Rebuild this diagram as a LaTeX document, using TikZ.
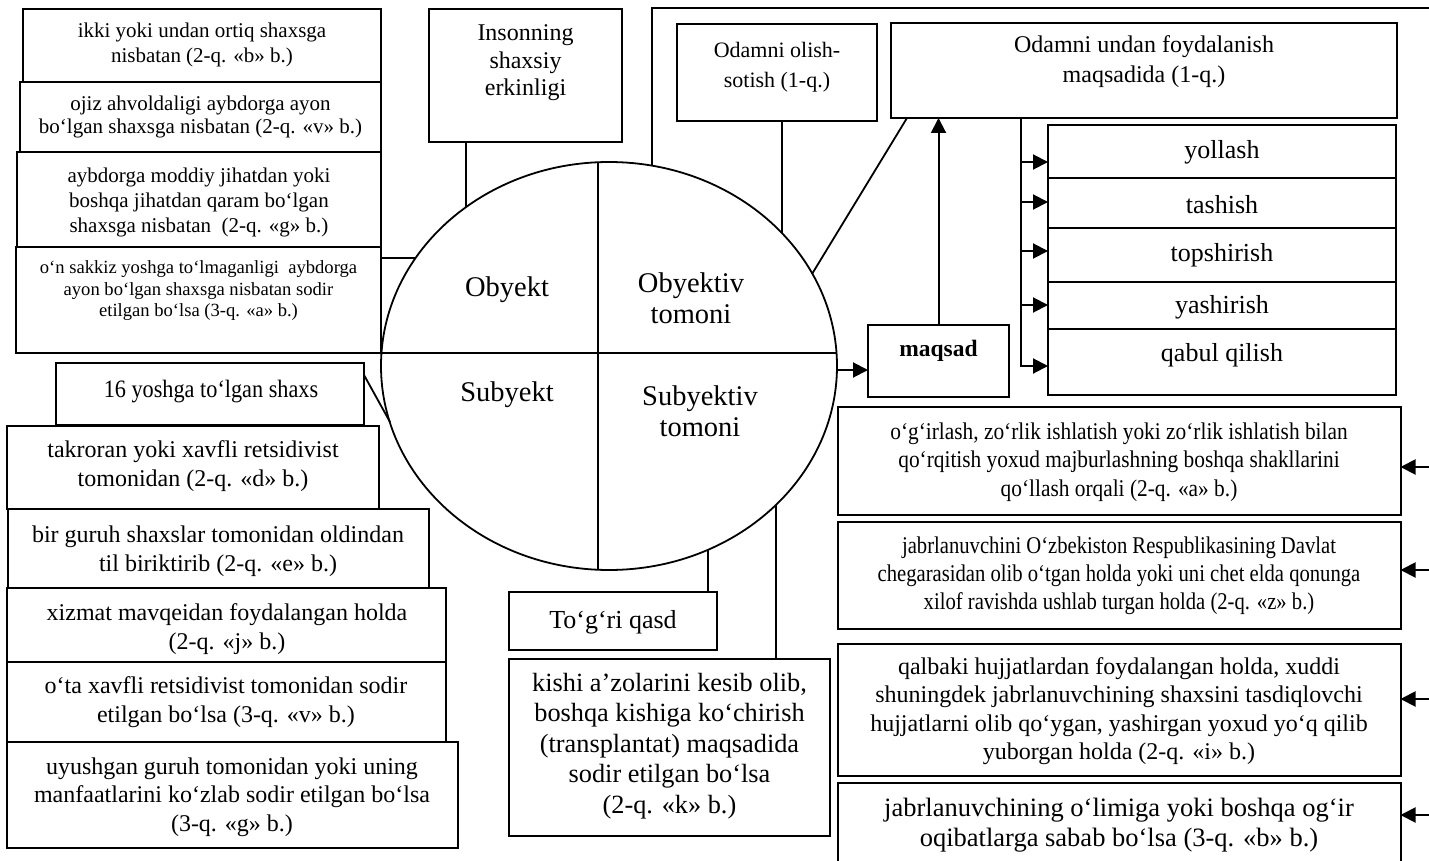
\documentclass[tikz,border=0pt]{standalone}
\usepackage{fontspec}
\setmainfont{Liberation Serif}
\newfontfamily\condA{Liberation Serif}[FakeStretch=0.89]
\newfontfamily\condB{Liberation Serif}[FakeStretch=0.86]
\usetikzlibrary{arrows.meta,shapes.geometric}
\newcommand\fs[2]{\fontsize{#1}{#2}\selectfont}
\newcommand\bx[5]{\node[box, minimum width={(#4-#2)*1pt}, minimum height={(#5-#3)*1pt}] (#1) at (#2,#3) {};}
\begin{document}
\begin{tikzpicture}[x=1pt,y=-1pt,
  box/.style={draw, line width=2pt, inner sep=0pt, outer sep=0pt, anchor=north west},
  txt/.style={align=center, inner sep=0pt},
  ln/.style={line width=1.8pt},
  arr/.style={line width=2pt, -{Triangle[length=15pt,width=15pt]}},
]
\useasboundingbox (0,0) rectangle (1429,861);

% ---------- circle ----------
\node[draw, ellipse, line width=1.8pt, inner sep=0pt, minimum width=456pt, minimum height=408pt] (E) at (609,366) {};
\coordinate (cl) at (381.5,353);
\coordinate (cr) at (836.5,353);
\coordinate (ct) at (598,162.2);
\coordinate (cb) at (598,569.8);
\draw[ln] (cl) -- (cr);
\draw[ln] (ct) -- (cb);
\node[txt, font=\fs{28.5}{31.5}] (obj) at (507,290) {Obyekt};
\node[txt, font=\fs{28.5}{31.5}] (objt) at (691,298) {Obyektiv\\tomoni};
\node[txt, font=\fs{28.5}{31.5}] (sub) at (507,395) {Subyekt};
\node[txt, font=\fs{28.5}{31.5}] (subt) at (700,411) {Subyektiv\\tomoni};

% ---------- left upper boxes ----------
\bx{b1}{23}{9}{381}{82}
\node[txt, font=\fs{21}{25.5}] (t1) at (202,45) {ikki yoki undan ortiq shaxsga\\nisbatan (2-q. «b» b.)};
\bx{b2}{20}{82}{381}{152}
\node[txt, font=\fs{21}{23.5}] (t2) at (200.5,117) {ojiz ahvoldaligi aybdorga ayon\\bo‘lgan shaxsga nisbatan (2-q. «v» b.)};
\bx{b3}{17}{152}{381}{247}
\node[txt, font=\fs{21}{25}] (t3) at (199,202) {aybdorga moddiy jihatdan yoki\\boshqa jihatdan qaram bo‘lgan\\shaxsga nisbatan\ \ (2-q. «g» b.)};
\bx{b4}{16}{247}{381}{353}
\node[txt, font=\fs{18.6}{21.5}] (t4) at (198.5,291) {o‘n sakkiz yoshga to‘lmaganligi\ \ aybdorga\\ayon bo‘lgan shaxsga nisbatan sodir\\etilgan bo‘lsa (3-q. «a» b.)};

% ---------- top middle ----------
\bx{ins}{429}{9}{622}{142}
\node[txt, font=\fs{24}{27.5}] (inst) at (525.5,63) {Insonning\\shaxsiy\\erkinligi};
\bx{ols}{677}{24}{877}{121}
\node[txt, font=\fs{22}{30}] (olst) at (777,67) {Odamni olish-\\sotish (1-q.)};
\bx{odu}{891}{23}{1397}{118}
\node[txt, font=\fs{24}{30}] (odut) at (1144,62) {Odamni undan foydalanish\\maqsadida (1-q.)};

% ---------- stacked boxes ----------
\bx{yol}{1048}{125}{1396}{178}
\bx{tas}{1048}{178}{1396}{228}
\bx{top}{1048}{228}{1396}{282}
\bx{yas}{1048}{282}{1396}{329}
\bx{qab}{1048}{329}{1396}{395}
\node[txt, font=\fs{26}{30}] (yolt) at (1222,152) {yollash};
\node[txt, font=\fs{26}{30}] (tast) at (1222,205) {tashish};
\node[txt, font=\fs{26}{30}] (topt) at (1222,255) {topshirish};
\node[txt, font=\fs{26}{30}] (yast) at (1222,307) {yashirish};
\node[txt, font=\fs{26}{30}] (qabt) at (1222,355) {qabul qilish};

% ---------- maqsad ----------
\bx{maq}{868}{325}{1009}{397}
\node[txt, font=\bfseries\fs{23.5}{27}] (maqt) at (938.5,351) {maqsad};

% ---------- right lower boxes ----------
\bx{ra}{837.5}{407}{1400.5}{515}
\node[txt, font=\condA\fs{24}{28.5}] (rat) at (1119,462) {o‘g‘irlash, zo‘rlik ishlatish yoki zo‘rlik ishlatish bilan\\qo‘rqitish yoxud majburlashning boshqa shakllarini\\qo‘llash orqali (2-q. «a» b.)};
\bx{rb}{837.5}{522}{1400.5}{629}
\node[txt, font=\condB\fs{24}{28}] (rbt) at (1119,576) {jabrlanuvchini O‘zbekiston Respublikasining Davlat\\chegarasidan olib o‘tgan holda yoki uni chet elda qonunga\\xilof ravishda ushlab turgan holda (2-q. «z» b.)};
\bx{rc}{837.5}{644}{1400.5}{776}
\node[txt, font=\fs{24}{28.5}] (rct) at (1119,711) {qalbaki hujjatlardan foydalangan holda, xuddi\\shuningdek jabrlanuvchining shaxsini tasdiqlovchi\\hujjatlarni olib qo‘ygan, yashirgan yoxud yo‘q qilib\\yuborgan holda (2-q. «i» b.)};
\bx{rd}{837.5}{783}{1400.5}{875}
\node[txt, font=\fs{26.5}{30}] (rdt) at (1119,825) {jabrlanuvchining o‘limiga yoki boshqa og‘ir\\oqibatlarga sabab bo‘lsa (3-q. «b» b.)};

% ---------- left lower boxes ----------
\bx{s16}{56}{363}{364}{425}
\node[txt, font=\condA\fs{25}{29}] (s16t) at (211,392) {16 yoshga to‘lgan shaxs};
\bx{l1}{7}{426}{379}{509}
\node[txt, font=\fs{24}{28.5}] (l1t) at (193,466) {takroran yoki xavfli retsidivist\\tomonidan (2-q. «d» b.)};
\bx{l2}{8}{509}{429}{588}
\node[txt, font=\fs{24}{28.5}] (l2t) at (218,551) {bir guruh shaxslar tomonidan oldindan\\til biriktirib (2-q. «e» b.)};
\bx{l3}{7}{588}{446}{662}
\node[txt, font=\fs{24}{28.5}] (l3t) at (227,629) {xizmat mavqeidan foydalangan holda\\(2-q. «j» b.)};
\bx{l4}{7}{662}{446}{742}
\node[txt, font=\fs{24}{28.5}] (l4t) at (226,702) {o‘ta xavfli retsidivist tomonidan sodir\\etilgan bo‘lsa (3-q. «v» b.)};
\bx{l5}{7}{742}{458}{848}
\node[txt, font=\fs{24}{28.5}] (l5t) at (232,797) {uyushgan guruh tomonidan yoki uning\\manfaatlarini ko‘zlab sodir etilgan bo‘lsa\\(3-q. «g» b.)};

% ---------- bottom middle ----------
\bx{tq}{509}{592}{717}{650}
\node[txt, font=\fs{26}{30}] (tqt) at (613,622) {To‘g‘ri qasd};
\bx{ks}{509}{659}{830}{836}
\node[txt, font=\fs{26.3}{30.5}] (kst) at (669.5,746) {kishi a’zolarini kesib olib,\\boshqa kishiga ko‘chirish\\(transplantat) maqsadida\\sodir etilgan bo‘lsa\\(2-q. «k» b.)};

% ---------- connectors ----------
\coordinate (eins) at (466,207);
\draw[ln] (ins.south -| eins) -- (eins);
\coordinate (eols) at (782,233);
\draw[ln] (ols.south -| eols) -- (eols);
\coordinate (efr) at (652,166);
\coordinate (fr1) at (652,8);
\coordinate (fr2) at (1429,8);
\draw[ln] (efr) -- (fr1) -- (fr2);
\coordinate (ed) at (812,274);
\draw[ln] ([xshift=16pt]odu.south west) -- (ed);
\coordinate (eb4) at (415,258);
\draw[ln] (b4.east |- eb4) -- (eb4);
\coordinate (e16) at (390,422);
\draw[ln] ([yshift=-12pt]s16.north east) -- (e16);
\coordinate (em) at (837,370);
\draw[arr] (em) -- (em -| maq.west);
\draw[arr] (maq.north) -- (maq.north |- odu.south);
\coordinate (br0) at (1021,118);
\coordinate (br1) at (1021,367);
\draw[ln] (br0) -- (br1);
\foreach \yy/\nn in {162/yol,202/tas,251/top,305/yas,366/qab}
  \draw[arr] (1021,\yy) -- (\nn.west |- 0,\yy);
\foreach \yy/\nn in {467/ra,570/rb,699/rc,815/rd}
  \draw[arr] (1429,\yy) -- (\nn.east |- 0,\yy);
\coordinate (etq) at (708,550);
\draw[ln] (tq.north -| etq) -- (etq);
\coordinate (eks) at (776,505);
\draw[ln] (ks.north -| eks) -- (eks);
\end{tikzpicture}
\end{document}
